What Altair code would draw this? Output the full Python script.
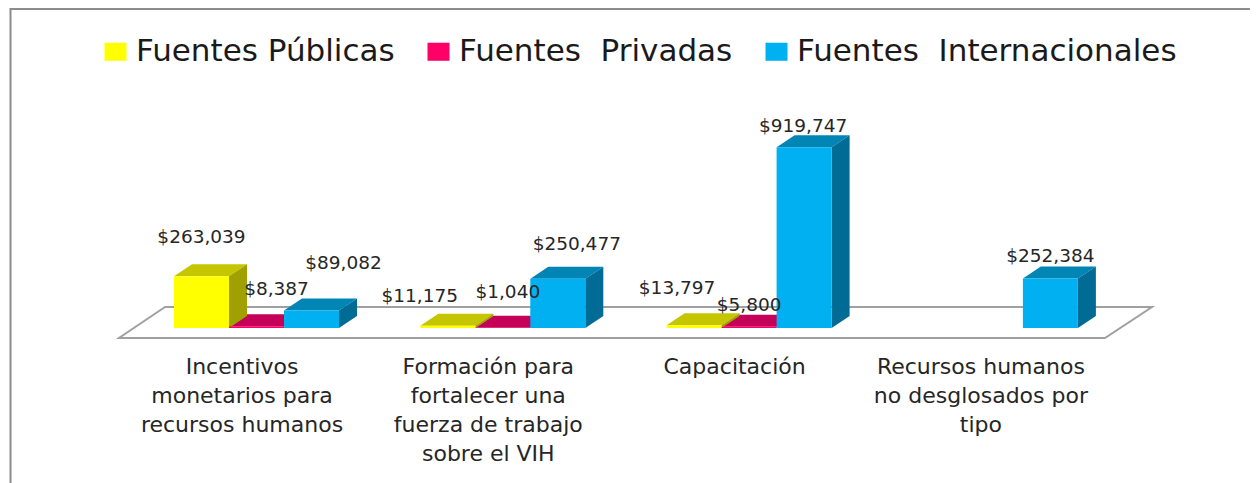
import altair as alt
import pandas as pd

categories = [
    "Incentivos\nmonetarios para\nrecursos humanos",
    "Formación para\nfortalecer una\nfuerza de trabajo\nsobre el VIH",
    "Capacitación",
    "Recursos humanos\nno desglosados por\ntipo",
]
series = ["Fuentes Públicas", "Fuentes\u00a0\u00a0Privadas", "Fuentes\u00a0\u00a0Internacionales"]
publicas = [263039, 11175, 13797, None]
privadas = [8387, 1040, 5800, None]
internacionales = [89082, 250477, 919747, 252384]

front_colors = ["#FFFF00", "#FF0066", "#00B0F0"]
top_colors = ["#C6C600", "#C40058", "#0085B5"]
side_colors = ["#A0A000", "#960044", "#006C96"]

# label nudges from the automatic spot above each bar (pixels), one per drawn value
label_nudges = {
    (0, 0): (0, -39), (0, 1): (20, -37), (0, 2): (32, -47),
    (1, 0): (-28, -30), (1, 1): (5, -36), (1, 2): (19, -35),
    (2, 0): (-17, -37), (2, 1): (0, -22), (2, 2): (-1, -21),
    (3, 2): (0, -22),
}

W, H = 1242, 475
PX_GROUP = 246.3
PX_BAR = 55.0
PX_PER_USD = 180.7 / 919747
BASE_X, BASE_Y = 174 - 8, 328 - 8
DX = 18 / PX_GROUP
DV = 12 / PX_PER_USD
BW = PX_BAR / PX_GROUP

x_scale = alt.Scale(domain=[-BASE_X / PX_GROUP, (W - BASE_X) / PX_GROUP], range=[0, W], nice=False, zero=False)
y_scale = alt.Scale(domain=[-(H - BASE_Y) / PX_PER_USD, BASE_Y / PX_PER_USD], range=[H, 0], nice=False, zero=False)
X = lambda f: alt.X(f, type="quantitative", scale=x_scale, axis=None)
Y = lambda f: alt.Y(f, type="quantitative", scale=y_scale, axis=None)

front, tops, sides, labels = [], [], [], []
for s, values in enumerate([publicas, privadas, internacionales]):
    for c, v in enumerate(values):
        if v is None:
            continue
        x0 = c + s * BW
        x1 = x0 + BW
        bar = f"{c}-{s}"
        front.append(dict(bar=bar, x0=x0, x1=x1, v=v, zero=0, serie=series[s]))
        tops.append(dict(bar=bar, v=v, x0=x0, x1=x1, col=top_colors[s], ord=s))
        tops.append(dict(bar=bar, v=v + DV, x0=x0 + DX, x1=x1 + DX, col=top_colors[s], ord=s))
        sides.append(dict(bar=bar, x=x1, v=v, b=0, col=side_colors[s]))
        sides.append(dict(bar=bar, x=x1 + DX, v=v + DV, b=DV, col=side_colors[s]))
        nx, ny = label_nudges[(c, s)]
        labels.append(dict(x=(x0 + x1) / 2 + nx / PX_GROUP, v=v - ny / PX_PER_USD, t=f"${v:,.0f}"))

floor = pd.DataFrame([
    dict(v=-10 / PX_PER_USD, a=(119 - 174) / PX_GROUP, b=(1105 - 174) / PX_GROUP),
    dict(v=21 / PX_PER_USD, a=(165 - 174) / PX_GROUP, b=(1152 - 174) / PX_GROUP),
])
floor_layer = alt.Chart(floor).mark_area(
    orient="horizontal", fill="white", stroke="#A0A0A0", strokeWidth=2, interpolate="linear"
).encode(y=Y("v"), x=X("a"), x2="b")

top_layer = alt.Chart(pd.DataFrame(tops)).mark_area(orient="horizontal").encode(
    y=Y("v"), x=X("x0"), x2="x1", detail="bar:N",
    color=alt.Color("col:N", scale=None),
)
side_layer = alt.Chart(pd.DataFrame(sides)).mark_area(orient="vertical").encode(
    x=X("x"), y=Y("v"), y2="b", detail="bar:N",
    color=alt.Color("col:N", scale=None),
)
front_layer = alt.Chart(pd.DataFrame(front)).mark_rect().encode(
    x=X("x0"), x2="x1", y=Y("v"), y2="zero",
    color=alt.Color(
        "serie:N",
        scale=alt.Scale(domain=series, range=front_colors),
        legend=alt.Legend(
            title=None, orient="none", legendX=92, legendY=28, direction="horizontal", columns=3,
            labelFont="DejaVu Sans", labelFontSize=31, labelColor="#1a1a1a", labelLimit=500,
            symbolType="M-1,-0.82H1V0.82H-1Z", symbolSize=484, symbolStrokeWidth=0,
            labelOffset=5, columnPadding=28, gridAlign="each",
        ),
    ),
)
label_layer = alt.Chart(pd.DataFrame(labels)).mark_text(
    font="DejaVu Sans", fontSize=18.5, color="#262626"
).encode(x=X("x"), y=Y("v"), text="t:N")

cat_df = pd.DataFrame(dict(x=[(242 - 174 + i * PX_GROUP) / PX_GROUP for i in range(4)], t=categories))
cat_df["v"] = -(357 - 328) / PX_PER_USD
cat_layer = alt.Chart(cat_df).mark_text(
    font="DejaVu Sans", fontSize=22, color="#262626", lineBreak="\n", lineHeight=29, baseline="top", align="center"
).encode(x=X("x"), y=Y("v"), text="t:N")

border_style = dict(color="#8C8C8C", strokeWidth=2)
border = (
    alt.Chart(pd.DataFrame({"a": [0]})).mark_rule(**border_style).encode(x=alt.value(2), x2=alt.value(W), y=alt.value(1))
    + alt.Chart(pd.DataFrame({"a": [0]})).mark_rule(**border_style).encode(x=alt.value(2.5), y=alt.value(0), y2=alt.value(H))
)

chart = (
    alt.layer(border, floor_layer, top_layer, side_layer, front_layer, label_layer, cat_layer)
    .resolve_scale(color="independent")
    .properties(width=W, height=H, padding=0, autosize=alt.AutoSizeParams(type="none"), background="white")
    .configure_view(stroke=None)
)
chart.save("out.html", embed_options={"renderer": "svg", "actions": False})
